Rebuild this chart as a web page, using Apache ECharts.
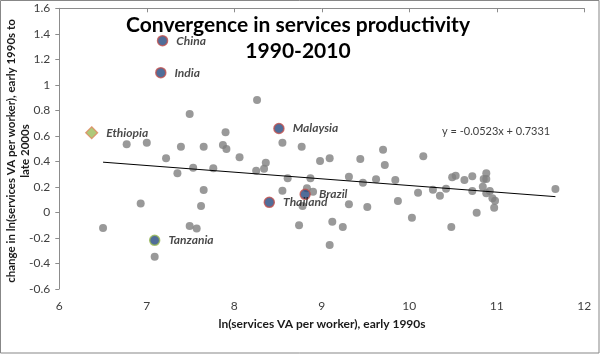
<!DOCTYPE html>
<html>
<head>
<meta charset="utf-8">
<script src="https://cdn.jsdelivr.net/npm/echarts@6/dist/echarts.min.js"></script>
<style>
html,body{margin:0;padding:0;background:#fff;}
#chart{width:600px;height:354px;}
</style>
</head>
<body>
<div id="chart"></div>
<script>
// ln(services VA per worker), early 1990s  -> change, early 1990s to late 2000s
const otherX = [6.77, 7.00, 7.49, 7.39, 7.22, 7.35, 7.53, 6.93, 6.50, 7.49, 7.57, 7.09,
  8.26, 7.90, 7.65, 7.87, 7.91, 8.55, 8.77, 8.06, 8.36, 8.34, 8.25, 7.76, 8.98, 9.09,
  8.61, 8.87, 7.65, 7.62, 8.55, 8.83, 8.90, 8.78, 8.74, 9.09, 9.12, 9.70, 9.44, 9.72,
  10.16, 9.31, 9.47, 9.62, 9.84, 10.10, 10.27, 10.35, 10.42, 10.49, 10.53, 10.63, 9.31,
  9.52, 9.87, 10.03, 10.48, 9.24, 10.72, 10.88, 10.88, 10.85, 10.84, 10.72, 10.92, 10.88,
  10.95, 10.98, 10.97, 10.77, 11.67];
const otherY = [0.533, 0.546, 0.771, 0.515, 0.424, 0.306, 0.350, 0.070, -0.123, -0.107, -0.128, -0.348,
  0.881, 0.627, 0.515, 0.528, 0.496, 0.546, 0.515, 0.431, 0.389, 0.342, 0.326, 0.345, 0.402, 0.424,
  0.267, 0.267, 0.175, 0.049, 0.170, 0.188, 0.162, 0.049, -0.102, -0.256, -0.074, 0.491, 0.418, 0.371,
  0.439, 0.279, 0.232, 0.259, 0.253, 0.154, 0.177, 0.130, 0.185, 0.275, 0.287, 0.253, 0.063,
  0.042, 0.089, -0.042, -0.115, -0.115, 0.282, 0.306, 0.261, 0.261, 0.201, 0.167, 0.167, 0.149,
  0.110, 0.091, 0.036, -0.003, 0.183];

const redRimNames = ['China', 'India', 'Malaysia', 'Thailand', 'Brazil'];
const redRimX = [7.18, 7.16, 8.51, 8.40, 8.81];
const redRimY = [1.346, 1.095, 0.657, 0.078, 0.141];

const greenRimNames = ['Tanzania'];
const greenRimX = [7.09];
const greenRimY = [-0.22];

const diamondNames = ['Ethiopia'];
const diamondX = [6.37];
const diamondY = [0.624];

const trendCoef = [-0.0523, 0.7331];      // slope, intercept
const trendXRange = [6.50, 11.67];
const trendLabel = 'y = -0.0523x + 0.7331';

const titleLines = ['Convergence in services productivity', '1990-2010'];
const xTitle = 'ln(services VA per worker), early 1990s';
const yTitleLines = ['change in ln(services VA per worker), early 1990s to', 'late 2000s'];

const zip = (xs, ys) => xs.map((x, i) => [x, ys[i]]);
const named = (ns, xs, ys) => ns.map((n, i) => ({ name: n, value: [xs[i], ys[i]] }));

const FONT = 'Lato, "Open Sans", sans-serif';
const chart = echarts.init(document.getElementById('chart'), null, { renderer: 'canvas' });

const labelStyle = {
  show: true, position: 'right', distance: 8, formatter: '{b}',
  fontFamily: FONT, fontSize: 12, fontWeight: 'bold', fontStyle: 'italic', color: '#1a1a1a'
};

chart.setOption({
  animation: false,
  backgroundColor: '#ffffff',
  grid: { left: 59.3, right: 15.7, top: 8.3, bottom: 65.2 },
  xAxis: [{
    type: 'value', min: 6, max: 12, interval: 1, position: 'bottom',
    axisLine: { show: false }, axisTick: { show: false }, splitLine: { show: false },
    axisLabel: { fontFamily: FONT, fontSize: 12, color: '#404040', margin: 11 }
  }, {
    type: 'value', min: 6, max: 12, interval: 1, position: 'top',
    axisLine: { show: true, onZero: true, lineStyle: { color: '#8c8c8c', width: 1 } },
    axisTick: { show: true, inside: true, length: 4, lineStyle: { color: '#8c8c8c' } },
    axisLabel: { show: false }, splitLine: { show: false }
  }],
  yAxis: {
    type: 'value', min: -0.6, max: 1.6, interval: 0.2,
    axisLine: { show: true, onZero: false, lineStyle: { color: '#8c8c8c', width: 1 } },
    axisTick: { show: true, length: 4, lineStyle: { color: '#8c8c8c' } },
    splitLine: { show: false },
    axisLabel: { fontFamily: FONT, fontSize: 12, color: '#404040', margin: 9 }
  },
  series: [{
    name: 'Other countries', type: 'scatter', xAxisIndex: 0,
    symbol: 'circle', symbolSize: 8,
    itemStyle: { color: '#808080' }, z: 2,
    data: zip(otherX, otherY)
  }, {
    name: 'Trend', type: 'line', xAxisIndex: 0, symbol: 'none', z: 3,
    lineStyle: { color: '#000000', width: 1 },
    data: trendXRange.map(x => [x, trendCoef[0] * x + trendCoef[1]])
  }, {
    name: 'Highlighted', type: 'scatter', xAxisIndex: 0,
    symbol: 'circle', symbolSize: 10, z: 4,
    itemStyle: { color: '#24487f', borderColor: '#c0504d', borderWidth: 1.5 },
    label: labelStyle,
    data: named(redRimNames, redRimX, redRimY)
  }, {
    name: 'Tanzania', type: 'scatter', xAxisIndex: 0,
    symbol: 'circle', symbolSize: 10, z: 4,
    itemStyle: { color: '#24487f', borderColor: '#9bbb59', borderWidth: 1.5 },
    label: labelStyle,
    data: named(greenRimNames, greenRimX, greenRimY)
  }, {
    name: 'Ethiopia', type: 'scatter', xAxisIndex: 0,
    symbol: 'diamond', symbolSize: 12, z: 4,
    itemStyle: { color: '#9bbb59', borderColor: '#e0865c', borderWidth: 1.2 },
    label: labelStyle,
    data: named(diamondNames, diamondX, diamondY)
  }],
  graphic: [{
    type: 'rect', silent: true, z: 100,
    shape: { x: 0.5, y: 0.5, width: 598.5, height: 352.5 },
    style: { fill: 'none', stroke: '#878787', lineWidth: 1 }
  }, {
    type: 'text', x: 298, y: 25, z: 50,
    style: { text: titleLines[0], fontFamily: FONT, fontSize: 21, fontWeight: 'bold',
      fill: '#000000', align: 'center', verticalAlign: 'middle' }
  }, {
    type: 'text', x: 298, y: 51, z: 50,
    style: { text: titleLines[1], fontFamily: FONT, fontSize: 21, fontWeight: 'bold',
      fill: '#000000', align: 'center', verticalAlign: 'middle' }
  }, {
    type: 'text', x: 322, y: 324, z: 50,
    style: { text: xTitle, fontFamily: FONT, fontSize: 12, fontWeight: 'bold',
      fill: '#1a1a1a', align: 'center', verticalAlign: 'middle' }
  }, {
    type: 'text', x: 11, y: 151, rotation: Math.PI / 2, z: 50,
    style: { text: yTitleLines[0], fontFamily: FONT, fontSize: 11.5, fontWeight: 'bold',
      fill: '#1a1a1a', align: 'center', verticalAlign: 'middle' }
  }, {
    type: 'text', x: 25, y: 151, rotation: Math.PI / 2, z: 50,
    style: { text: yTitleLines[1], fontFamily: FONT, fontSize: 11.5, fontWeight: 'bold',
      fill: '#1a1a1a', align: 'center', verticalAlign: 'middle' }
  }, {
    type: 'text', x: 442, y: 131, z: 50,
    style: { text: trendLabel, fontFamily: FONT, fontSize: 11,
      fill: '#404040', align: 'left', verticalAlign: 'middle' }
  }]
});
</script>
</body>
</html>
